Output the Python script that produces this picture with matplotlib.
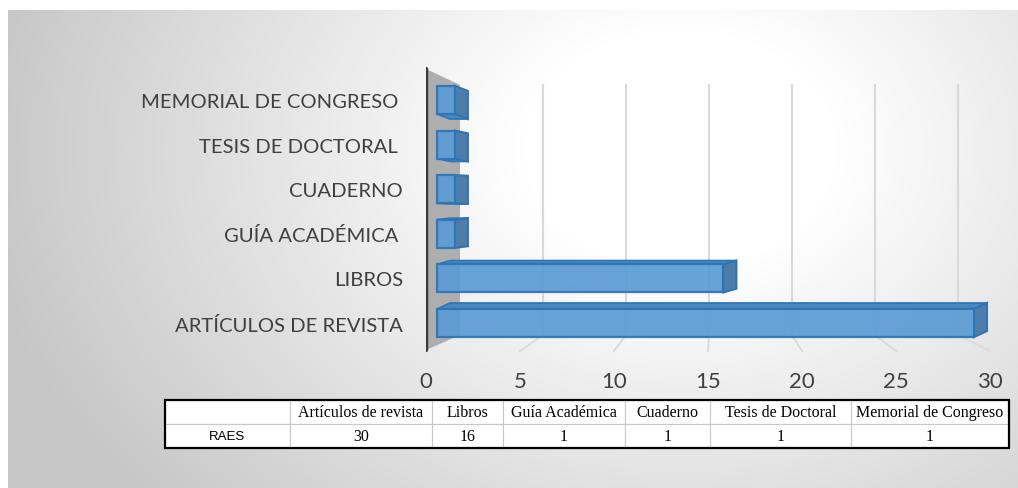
import numpy as np
import matplotlib
matplotlib.use("Agg")
import matplotlib.pyplot as plt
from matplotlib.patches import Polygon, Rectangle

# datos
categorias = ["ARTÍCULOS DE REVISTA", "LIBROS", "GUÍA ACADÉMICA ", "CUADERNO",
              "TESIS DE DOCTORAL ", "MEMORIAL DE CONGRESO "]
valores = [30, 16, 1, 1, 1, 1]
encabezados = ["Artículos de revista", "Libros", "Guía Académica", "Cuaderno",
               "Tesis de Doctoral", "Memorial de Congreso"]
fila_nombre = "RAES"
ticks_x = [0, 5, 10, 15, 20, 25, 30]

W, H = 1018, 489
fig = plt.figure(figsize=(W / 100, H / 100), dpi=100, facecolor="white")

# fondo con degradado radial
bg = fig.add_axes([8 / W, 0, 1 - 8 / W, 1 - 11 / H], zorder=-5)
yy, xx = np.mgrid[11:H, 8:W]
r = np.sqrt(((xx - 680) / 1.3) ** 2 + (yy - 150) ** 2)
t = np.clip((r - 120) / 420, 0, 1)
g = 1 - t * (1 - 0.78)
bg.imshow(np.dstack([g, g, g]), aspect="auto", extent=[0, 1, 0, 1])
bg.axis("off")

# ejes principales (px -> datos)
PX0, SX = 437, 17.9      # x: px = PX0 + SX * v
PY0, SY = 324, 44.6      # y: py = PY0 - SY * i
left, right, top, bottom = 426, 1000, 60, 360
ax = fig.add_axes([left / W, (H - bottom) / H, (right - left) / W, (bottom - top) / H])
ax.set_xlim((left - PX0) / SX, (right - PX0) / SX)
ax.set_ylim((PY0 - bottom) / SY, (PY0 - top) / SY)
ax.patch.set_alpha(0)
for s in ax.spines.values():
    s.set_visible(False)

def px(x):
    return (x - PX0) / SX

def py(y):
    return (PY0 - y) / SY

# pared lateral gris
ax.add_patch(Polygon([(px(426), py(70)), (px(460), py(86)), (px(460), py(336)), (px(426), py(351))],
                     closed=True, facecolor="#aeaeae", edgecolor="none", zorder=1))
ax.plot([px(426), px(426)], [py(70), py(351)], color="#3a3a3a", lw=3.2,
        solid_capstyle="round", zorder=2)

# rejilla del fondo y líneas del suelo
for L in ticks_x[1:]:
    xb = px(460 + 16.6 * L)
    xf = px(426 + 18.8 * L)
    ax.plot([xb, xb], [py(86), py(336)], color="#d9d9d9", lw=1.5, zorder=0.5)
    ax.plot([xb, xf], [py(336), py(352)], color="#dcdcdc", lw=1.5, zorder=0.5)

# barras pseudo-3D
h = 0.315
dx = 13 / SX
for i, v in enumerate(valores):
    dy = (6 - 2.2 * i) / SY
    face = "#5b9bd5"
    edge = "#2e75b6"
    # cara superior / inferior
    yb = i + h if dy > 0 else i - h
    ax.add_patch(Polygon([(0, yb), (dx, yb + dy), (v + dx, yb + dy), (v, yb)],
                         facecolor="#4a86c0", edgecolor=edge, lw=1.2, zorder=3))
    # cara lateral
    ax.add_patch(Polygon([(v, i - h), (v + dx, i - h + dy), (v + dx, i + h + dy), (v, i + h)],
                         facecolor="#4f7daa", edgecolor=edge, lw=1.5, zorder=3))
    # cara frontal
    ax.barh(i, v, height=2 * h, left=0, color=face, alpha=0.92, edgecolor=edge,
            linewidth=1.6, zorder=4)

ax.set_yticks(range(len(categorias)))
ax.set_yticklabels(categorias, fontfamily="Lato", fontsize=14.6, color="#404040")
ax.tick_params(axis="y", length=0, pad=16.5)
ax.set_xticks([])

# etiquetas del eje x en el plano frontal
sec = ax.secondary_xaxis("bottom",
                         functions=(lambda v: (PX0 - 426 + SX * v) / 18.8,
                                    lambda L: (426 + 18.8 * L - PX0) / SX))
sec.set_xticks(ticks_x)
sec.tick_params(length=0, pad=9, labelsize=16, labelcolor="#404040")
for lab in sec.get_xticklabels():
    lab.set_fontfamily("Lato")
sec.spines["bottom"].set_visible(False)

# tabla de datos
tl, tr, tt, tb = 165, 1009, 401, 449
axt = fig.add_axes([tl / W, (H - tb) / H, (tr - tl) / W, (tb - tt) / H])
axt.axis("off")
anchos = np.array([125, 142, 71, 122, 85, 141, 158], dtype=float)
celdas = [[""] + encabezados, [fila_nombre] + [str(v) for v in valores]]
tabla = axt.table(cellText=celdas, colWidths=list(anchos / anchos.sum()),
                  cellLoc="center", bbox=[0, 0, 1, 1])
tabla.auto_set_font_size(False)
for (rr, cc), cell in tabla.get_celld().items():
    cell.set_facecolor("white")
    cell.set_edgecolor("#c8c8c8")
    cell.set_linewidth(0.8)
    txt = cell.get_text()
    if rr == 1 and cc == 0:
        txt.set_fontfamily("Liberation Sans")
        txt.set_fontsize(9.5)
    else:
        txt.set_fontfamily("Liberation Serif")
        txt.set_fontsize(11.5)
axt.add_patch(Rectangle((0, 0), 1, 1, transform=axt.transAxes, fill=False,
                        edgecolor="black", lw=1.6, zorder=10, clip_on=False))

fig.savefig("out.png", dpi=100, facecolor="white")
